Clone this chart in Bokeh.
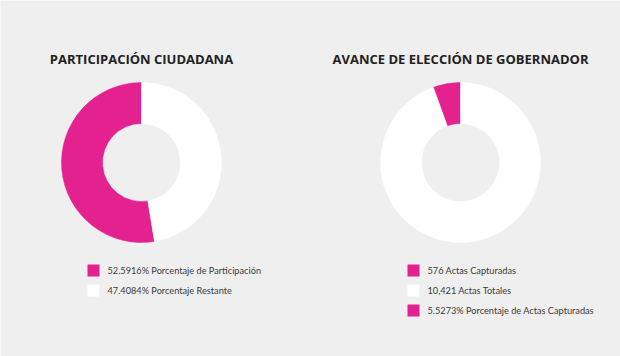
import math
from bokeh.plotting import figure
from bokeh.models import ColumnDataSource
from bokeh.core.properties import value
from bokeh.embed import file_html
from bokeh.resources import INLINE

# ---- data ----
titles = ["PARTICIPACIÓN CIUDADANA", "AVANCE DE ELECCIÓN DE GOBERNADOR"]
part_labels = ["Porcentaje de Participación", "Porcentaje Restante"]
part_values = [52.5916, 47.4084]
actas_capturadas = 576
actas_totales = 10421
actas_pct = 5.5273
avance_legend = [
    f"{actas_capturadas} Actas Capturadas",
    f"{actas_totales:,} Actas Totales",
    f"{actas_pct}% Porcentaje de Actas Capturadas",
]

PINK = "#e3218f"
WHITE = "#ffffff"
BG = "#efefef"
W, H = 620, 356

p = figure(width=W, height=H, x_range=(0, W), y_range=(0, H),
           output_backend="svg", toolbar_location=None,
           x_axis_type=None, y_axis_type=None, min_border=0)
p.grid.visible = False
p.outline_line_color = None
p.background_fill_color = BG
p.border_fill_color = BG

def Y(py):
    return H - py

def donut(cx, cy, fractions, colors):
    start = math.pi / 2
    s, e = [], []
    for f in fractions:
        s.append(start)
        start = start + 2 * math.pi * f
        e.append(start)
    src = ColumnDataSource(dict(x=[cx] * len(fractions), y=[cy] * len(fractions),
                                s=s, e=e, c=colors))
    p.annular_wedge(x="x", y="y", inner_radius=39, outer_radius=80,
                    start_angle="s", end_angle="e", fill_color="c",
                    line_color="c", line_width=0.5, source=src)

# left donut
donut(141, Y(162), [v / 100 for v in part_values], [PINK, WHITE])
# right donut
frac = actas_capturadas / actas_totales
donut(460, Y(162), [frac, 1 - frac], [PINK, WHITE])

# titles
p.text(x=[141, 460], y=[Y(58), Y(58)], text=titles,
       text_font=value("Open Sans"), text_font_style="bold",
       text_font_size="13px", text_color="#222222",
       text_align="center", text_baseline="middle")

# legends
left_texts = [f"{part_values[0]}% {part_labels[0]}", f"{part_values[1]}% {part_labels[1]}"]
left_colors = [PINK, WHITE]
right_colors = [PINK, WHITE, PINK]

def legend(x0, texts, colors):
    ys = [Y(270 + 20 * i) for i in range(len(texts))]
    p.rect(x=[x0 + 6] * len(texts), y=ys, width=12, height=12,
           fill_color=colors, line_color=None)
    p.text(x=[x0 + 20] * len(texts), y=ys, text=texts,
           text_font=value("Lato"), text_font_size="9.2px",
           text_color="#3a3a3a", text_align="left", text_baseline="middle")

legend(87, left_texts, left_colors)
legend(407, avance_legend, right_colors)

open("out.html", "w").write(file_html(p, INLINE))
